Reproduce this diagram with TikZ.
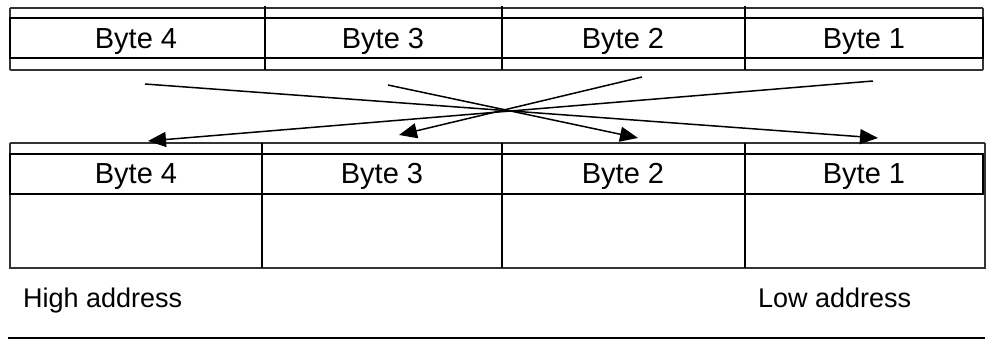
\documentclass[tikz,border=0pt]{standalone}
\usepackage{fontspec}
\setmainfont{Liberation Sans}
\usetikzlibrary{arrows.meta}
\begin{document}
\begin{tikzpicture}[x=1pt,y=-1pt,
  thinln/.style={line width=1.2pt,black!80},
  thickln/.style={line width=2.2pt,black},
  bytelbl/.style={inner sep=0pt,anchor=base,font=\fontsize{29}{31}\selectfont},
  addrlbl/.style={inner sep=0pt,anchor=base west,font=\fontsize{27}{29}\selectfont},
  swap/.style={line width=1.5pt,-{Triangle[length=18pt,width=15pt]}}]
\useasboundingbox (0,0) rectangle (988,340);
% top table
\draw[thinln] (10,8) -- (983,8);
\draw[thinln] (10,70) -- (983,70);
\draw[thinln] (10,8) -- (10,70);
\draw[thinln] (983,8) -- (983,70);
\draw[thickln] (10,18) rectangle (983,58);
\foreach \x in {265,502,745} \draw[thickln] (\x,6) -- (\x,70);
\node[bytelbl] (t4) at (136,48) {Byte 4};
\node[bytelbl] (t3) at (383,48) {Byte 3};
\node[bytelbl] (t2) at (623,48) {Byte 2};
\node[bytelbl] (t1) at (864,48) {Byte 1};
% bottom table
\draw[thinln] (10,143) -- (985,143);
\draw[thinln] (10,143) -- (10,268) -- (985,268) -- (985,143);
\draw[thickln] (10,154) rectangle (983,194);
\foreach \x in {262,502,745} \draw[thickln] (\x,143) -- (\x,268);
\node[bytelbl] (b4) at (136,183) {Byte 4};
\node[bytelbl] (b3) at (382,183) {Byte 3};
\node[bytelbl] (b2) at (623,183) {Byte 2};
\node[bytelbl] (b1) at (864,183) {Byte 1};
% labels
\node[addrlbl] (hi) at (23,307) {High address};
\node[addrlbl] (lo) at (758,307) {Low address};
\draw[thickln] (8,338) -- (985,338);
% arrows
\coordinate (s4) at (145,84);
\coordinate (e4) at (878,138);
\coordinate (s3) at (388,85);
\coordinate (e3) at (638,138);
\coordinate (s2) at (642,77);
\coordinate (e2) at (399,135);
\coordinate (s1) at (873,81);
\coordinate (e1) at (148,141);
\draw[swap] (s4) -- (e4);
\draw[swap] (s3) -- (e3);
\draw[swap] (s2) -- (e2);
\draw[swap] (s1) -- (e1);
\end{tikzpicture}
\end{document}
